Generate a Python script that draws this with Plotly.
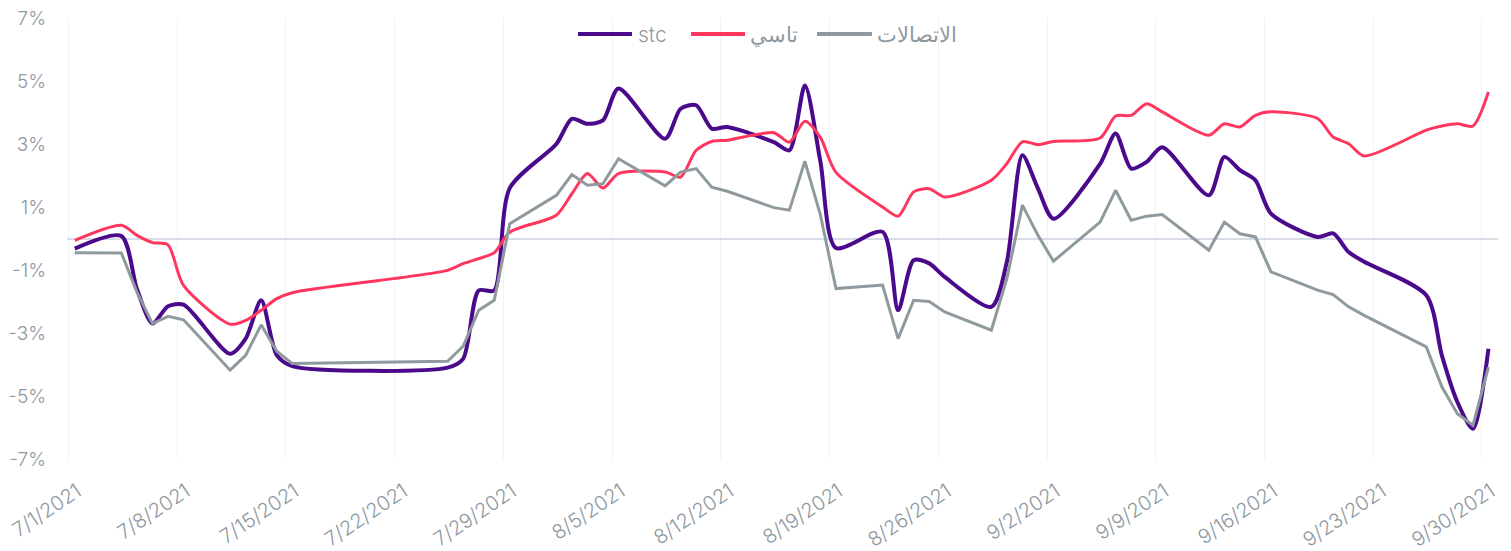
import plotly.graph_objects as go

dates = [
    "2021-07-01", "2021-07-04", "2021-07-05", "2021-07-06", "2021-07-07", "2021-07-08",
    "2021-07-11", "2021-07-12", "2021-07-13", "2021-07-14", "2021-07-15",
    "2021-07-25", "2021-07-26", "2021-07-27", "2021-07-28", "2021-07-29",
    "2021-08-01", "2021-08-02", "2021-08-03", "2021-08-04", "2021-08-05",
    "2021-08-08", "2021-08-09", "2021-08-10", "2021-08-11", "2021-08-12",
    "2021-08-15", "2021-08-16", "2021-08-17", "2021-08-18", "2021-08-19",
    "2021-08-22", "2021-08-23", "2021-08-24", "2021-08-25", "2021-08-26",
    "2021-08-29", "2021-08-30", "2021-08-31", "2021-09-01", "2021-09-02",
    "2021-09-05", "2021-09-06", "2021-09-07", "2021-09-08", "2021-09-09",
    "2021-09-12", "2021-09-13", "2021-09-14", "2021-09-15", "2021-09-16",
    "2021-09-19", "2021-09-20", "2021-09-21", "2021-09-22",
    "2021-09-26", "2021-09-27", "2021-09-28", "2021-09-29", "2021-09-30",
]

stc = [
    -0.32, 0.08, -1.6, -2.7, -2.15, -2.1,
    -3.66, -3.18, -1.96, -3.7, -4.05,
    -4.1, -3.82, -1.65, -1.65, 1.6,
    3.0, 3.8, 3.64, 3.75, 4.76,
    3.17, 4.12, 4.23, 3.49, 3.54,
    3.06, 2.8, 4.86, 2.43, -0.3,
    0.21, -2.28, -0.69, -0.79, -1.22,
    -2.17, -0.74, 2.64, 1.59, 0.63,
    2.37, 3.33, 2.22, 2.43, 2.9,
    1.37, 2.59, 2.17, 1.85, 0.79,
    0.05, 0.16, -0.43, -0.74,
    -1.8, -3.71, -5.19, -6.04, -3.5,
]

tasi = [
    -0.06, 0.42, 0.1, -0.13, -0.2, -1.49,
    -2.72, -2.6, -2.28, -1.91, -1.72,
    -1.01, -0.8, -0.64, -0.45, 0.2,
    0.74, 1.42, 2.06, 1.6, 2.06,
    2.11, 1.95, 2.8, 3.08, 3.12,
    3.36, 3.06, 3.72, 3.2, 2.1,
    1.0, 0.71, 1.48, 1.58, 1.32,
    1.85, 2.38, 3.07, 2.98, 3.08,
    3.19, 3.89, 3.91, 4.28, 4.02,
    3.28, 3.64, 3.54, 3.91, 4.02,
    3.81, 3.22, 3.01, 2.62,
    3.44, 3.57, 3.64, 3.57, 4.65,
]

telecom = [
    -0.45, -0.46, -1.7, -2.7, -2.47, -2.58,
    -4.18, -3.71, -2.74, -3.58, -3.97,
    -3.9, -3.42, -2.28, -1.96, 0.47,
    1.37, 2.03, 1.69, 1.74, 2.53,
    1.67, 2.11, 2.22, 1.63, 1.5,
    0.98, 0.9, 2.45, 0.74, -1.59,
    -1.48, -3.18, -1.96, -2.0, -2.33,
    -2.91, -1.27, 1.06, 0.1, -0.72,
    0.52, 1.53, 0.58, 0.71, 0.76,
    -0.37, 0.52, 0.15, 0.05, -1.06,
    -1.64, -1.78, -2.17, -2.44,
    -3.44, -4.71, -5.56, -5.93, -4.08,
]

series_names = ["stc", "تاسي", "الاتصالات"]
series_colors = ["#4b0a8c", "#ff375e", "#8f9a9f"]

tick_dates = ["2021-07-01", "2021-07-08", "2021-07-15", "2021-07-22", "2021-07-29",
              "2021-08-05", "2021-08-12", "2021-08-19", "2021-08-26", "2021-09-02",
              "2021-09-09", "2021-09-16", "2021-09-23", "2021-09-30"]
tick_labels = ["7/1/2021", "7/8/2021", "7/15/2021", "7/22/2021", "7/29/2021",
               "8/5/2021", "8/12/2021", "8/19/2021", "8/26/2021", "9/2/2021",
               "9/9/2021", "9/16/2021", "9/23/2021", "9/30/2021"]
y_ticks = [-7, -5, -3, -1, 1, 3, 5, 7]
y_labels = ["-7%", "-5%", "-3%", "-1%", "1%", "3%", "5%", "7%"]

x = [d + "T10:00:00" for d in dates]

TXT = "#8e989f"
FONT = "Inter, Noto Sans, DejaVu Sans, sans-serif"

fig = go.Figure()
fig.add_trace(go.Scatter(x=x, y=stc, name=series_names[0], mode="lines",
                         line=dict(color=series_colors[0], width=4, shape="spline", smoothing=0.75)))
fig.add_trace(go.Scatter(x=x, y=tasi, name=series_names[1], mode="lines",
                         line=dict(color=series_colors[1], width=3, shape="spline", smoothing=0.75)))
fig.add_trace(go.Scatter(x=x, y=telecom, name=series_names[2], mode="lines",
                         line=dict(color=series_colors[2], width=3, shape="linear")))

# custom legend (long line symbols), positioned in paper coordinates
leg_y = 0.9635
leg_items = [(0.3571, 0.3948, 0.3976), (0.4361, 0.4738, 0.4759), (0.5241, 0.5625, 0.5646)]
for (x0, x1, xt), name, col in zip(leg_items, series_names, series_colors):
    fig.add_shape(type="line", xref="paper", yref="paper", x0=x0, x1=x1, y0=leg_y, y1=leg_y,
                  line=dict(color=col, width=4), layer="above")
    fig.add_annotation(xref="paper", yref="paper", x=xt, y=leg_y, text=name, showarrow=False,
                       xanchor="left", yanchor="middle",
                       font=dict(size=21, color=TXT, family=FONT, weight=300))

fig.update_layout(
    width=1511, height=551,
    margin=dict(l=59, r=21, t=10, b=100),
    paper_bgcolor="white", plot_bgcolor="white",
    font=dict(family=FONT, size=18, color=TXT, weight=300),
    showlegend=False,
    hovermode=False,
)
fig.update_xaxes(
    type="date", automargin=False,
    range=["2021-06-30T22:00:00", "2021-10-01T00:45:00"],
    tickvals=tick_dates, ticktext=tick_labels, tickangle=-34,
    showgrid=True, gridcolor="#f1f2f5", gridwidth=1,
    zeroline=False, showline=False, ticks="",
    ticklabeloverflow="allow", ticklabelstandoff=16, ticklabelshift=9,
    tickfont=dict(size=20, color=TXT, weight=300),
)
fig.update_yaxes(
    automargin=False,
    range=[-7, 7], tickvals=y_ticks, ticktext=y_labels,
    showgrid=False, zeroline=True, zerolinecolor="#d8dce6", zerolinewidth=2,
    showline=False, ticks="", ticklabelstandoff=20,
    ticklabeloverflow="allow",
    tickfont=dict(size=19, color=TXT, weight=300),
)

fig.write_html("out.html")
